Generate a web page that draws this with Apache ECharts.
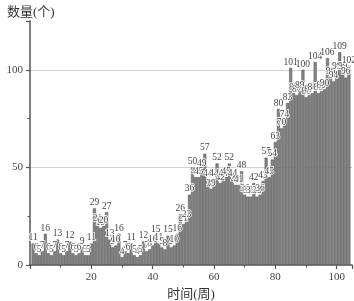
<!DOCTYPE html>
<html><head><meta charset="utf-8">
<script src="https://cdn.jsdelivr.net/npm/echarts@6/dist/echarts.min.js"></script>
<style>html,body{margin:0;padding:0;background:#fff}#c{width:354px;height:301px}</style>
</head><body><div id="c"></div>
<script>
const weeks = [1,2,3,4,5,6,7,8,9,10,11,12,13,14,15,16,17,18,19,20,
21,22,23,24,25,26,27,28,29,30,31,32,33,34,35,36,37,38,39,40,
41,42,43,44,45,46,47,48,49,50,51,52,53,54,55,56,57,58,59,60,
61,62,63,64,65,66,67,68,69,70,71,72,73,74,75,76,77,78,79,80,
81,82,83,84,85,86,87,88,89,90,91,92,93,94,95,96,97,98,99,100,
101,102,103,104];
const counts = [11,6,5,7,16,6,5,7,13,6,
5,7,12,6,5,6,9,5,5,11,
29,21,19,20,27,13,9,10,16,4,
7,6,11,5,4,5,12,7,8,10,
15,11,9,8,15,9,10,16,26,21,
23,36,50,45,45,49,57,44,39,44,
52,42,44,45,52,44,41,41,48,36,
35,35,42,35,36,43,55,45,54,63,
80,70,74,83,101,88,87,89,100,86,
87,88,104,88,89,90,106,96,94,99,
109,99,96,102];
const xTickLabels = [20,40,60,80,100];
const yTickLabels = [0,50,100];

const serif = '"Liberation Serif","DejaVu Serif","Noto Sans CJK SC",serif';
const axisCol = '#555';
const chart = echarts.init(document.getElementById('c'), null, {renderer:'canvas'});
chart.setOption({
  animation:false,
  title:{text:'数量(个)', left:2, top:1, textStyle:{fontFamily:serif, fontSize:13, fontWeight:'normal', color:'#333'}},
  grid:{left:30, right:2, top:21, bottom:36, containLabel:false, outerBoundsMode:'none'},
  xAxis:[{
    type:'value', min:0, max:105, interval:20,
    name:'时间(周)', nameLocation:'middle', nameGap:22,
    nameTextStyle:{fontFamily:serif, fontSize:13, color:'#333'},
    axisLine:{lineStyle:{color:axisCol, width:1.5}},
    axisTick:{length:4, lineStyle:{color:axisCol, width:1.2}},
    axisLabel:{fontFamily:serif, fontSize:11, color:'#444', margin:7,
      formatter:v=> xTickLabels.indexOf(v)>=0 ? String(v) : ''},
    splitLine:{show:false}
  },{
    type:'value', min:0, max:105, interval:10, position:'bottom',
    axisLine:{show:false}, axisLabel:{show:false}, splitLine:{show:false},
    axisTick:{length:2.5, lineStyle:{color:axisCol, width:1}}
  }],
  yAxis:[{
    type:'value', min:0, max:125, interval:50,
    axisLine:{show:true, lineStyle:{color:axisCol, width:1.5}},
    axisTick:{show:true, length:4, lineStyle:{color:axisCol, width:1.2}},
    axisLabel:{fontFamily:serif, fontSize:11, color:'#444', margin:7,
      formatter:v=> yTickLabels.indexOf(v)>=0 ? String(v) : ''},
    splitLine:{show:true, showMinLine:false, showMaxLine:false, lineStyle:{color:'#d4d4d4', width:1}}
  },{
    type:'value', min:0, max:125, interval:25, position:'left',
    axisLine:{show:false}, axisLabel:{show:false}, splitLine:{show:false},
    axisTick:{show:true, length:2.5, lineStyle:{color:axisCol, width:1}}
  }],
  series:[{
    type:'bar', xAxisIndex:0, yAxisIndex:0,
    data: weeks.map((w,i)=>[w, counts[i]]),
    barWidth:3,
    itemStyle:{color:'#858585', borderColor:'#4a4a4a', borderWidth:0.5},
    label:{show:true, position:'top', distance:1, fontFamily:serif, fontSize:9.5, color:'#444',
      textBorderColor:'#fff', textBorderWidth:1.5,
      formatter:p=>String(p.value[1])}
  }]
});
</script></body></html>
